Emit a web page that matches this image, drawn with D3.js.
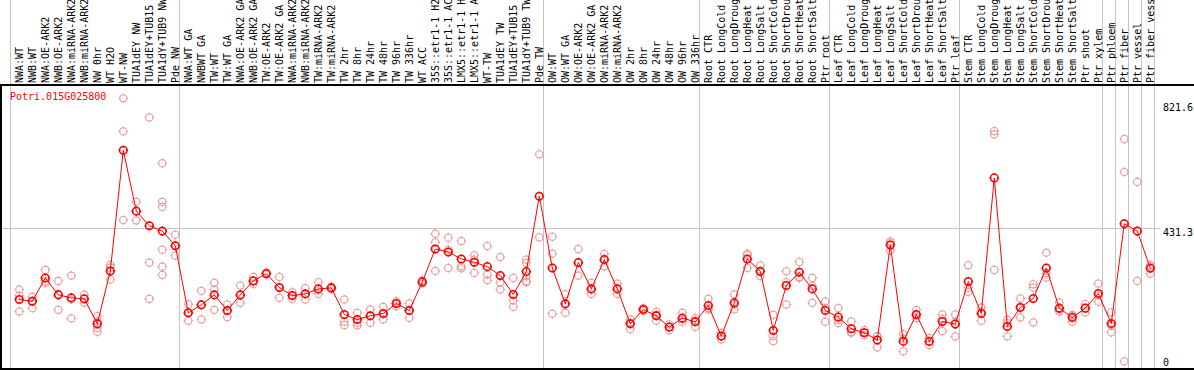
<!DOCTYPE html>
<html>
<head>
<meta charset="utf-8">
<script src="https://cdn.jsdelivr.net/npm/d3@7"></script>
<style>
  html, body { margin: 0; padding: 0; background: #fff; }
  svg { display: block; }
  text { font-family: "DejaVu Sans Mono", monospace; font-size: 10px; }
</style>
</head>
<body>
<svg id="chart" width="1194" height="370"></svg>
<script>
const gene = "Potri.015G025800";

const categories = [
  "NWA:WT", "NWB:WT", "NWA:OE-ARK2", "NWB:OE-ARK2", "NWA:miRNA-ARK2", "NWB:miRNA-ARK2",
  "NW 0hr", "WT H2O", "WT-NW", "TUA1dEY NW", "TUA1dEY+TUB15 NW", "TUA1dY+TUB9 NW", "Pde NW",
  "NWA:WT GA", "NWBWT GA", "TW:WT", "TW:WT GA", "NWA:OE-ARK2 GA", "NWB:OE-ARK2 GA",
  "TW:OE-ARK2", "TW:OE-ARK2 GA", "NWA:miRNA-ARK2 GA", "NWB:miRNA-ARK2 GA", "TW:miRNA-ARK2",
  "TW:miRNA-ARK2 GA", "TW 2hr", "TW 8hr", "TW 24hr", "TW 48hr", "TW 96hr", "TW 336hr", "WT ACC",
  "35S::etr1-1 H2O", "35S::etr1-1 ACC", "LMX5::etr1-1 H2O", "LMX5::etr1-1 ACC", "WT-TW",
  "TUA1dEY TW", "TUA1dEY+TUB15 TW", "TUA1dY+TUB9 TW", "Pde TW",
  "OW:WT", "OW:WT GA", "OW:OE-ARK2", "OW:OE-ARK2 GA", "OW:miRNA-ARK2", "OW:miRNA-ARK2 GA",
  "OW 2hr", "OW 8hr", "OW 24hr", "OW 48hr", "OW 96hr", "OW 336hr",
  "Root CTR", "Root LongCold", "Root LongDrought", "Root LongHeat", "Root LongSalt",
  "Root ShortCold", "Root ShortDrought", "Root ShortHeat", "Root ShortSalt", "Ptr root",
  "Leaf CTR", "Leaf LongCold", "Leaf LongDrought", "Leaf LongHeat", "Leaf LongSalt",
  "Leaf ShortCold", "Leaf ShortDrought", "Leaf ShortHeat", "Leaf ShortSalt", "Ptr leaf",
  "Stem CTR", "Stem LongCold", "Stem LongDrought", "Stem LongHeat", "Stem LongSalt",
  "Stem ShortCold", "Stem ShortDrought", "Stem ShortHeat", "Stem ShortSalt", "Ptr shoot",
  "Ptr xylem", "Ptr phloem", "Ptr fiber", "Ptr vessel", "Ptr fiber vessel"
];

// last column of each group (a grey rule is drawn after it)
const groupEnds = [
  "Pde NW", "Pde TW", "OW 336hr", "Ptr root", "Ptr leaf", "Ptr xylem",
  "Ptr phloem", "Ptr fiber", "Ptr vessel", "Ptr fiber vessel"
];

const means = [
  216, 211, 281, 230, 221, 218, 143, 302, 665, 482, 438, 422, 378,
  176, 200, 230, 183, 230, 272, 294, 252, 228, 233, 248, 251, 171,
  156, 167, 174, 204, 183, 269, 368, 359, 338, 328, 315, 288, 231,
  300, 527,
  311, 203, 327, 248, 336, 248, 143, 186, 167, 133, 160, 149,
  198, 106, 206, 338, 301, 123, 258, 298, 248, 183,
  163, 128, 116, 94, 380, 90, 171, 90, 150, 142,
  270, 174, 582, 135, 192, 219, 311, 190, 162, 190, 234,
  144, 444, 422, 310
];

const replicates = [
  [246, 228, 180], [224, 212, 190], [305, 272, 266], [272, 233, 185], [288, 216, 159],
  [230, 218, 206], [166, 150, 131, 119], [320, 312, 276], [821.6, 722, 455], [510, 482, 454],
  [764, 327, 218], [626, 510, 495, 366, 315, 290], [411, 378, 348],
  [202, 176, 152], [242, 200, 156], [266, 246, 185], [201, 183, 163], [258, 228, 206],
  [284, 272, 263], [297, 294, 291], [284, 252, 221], [238, 228, 218], [250, 233, 216],
  [268, 243, 233], [255, 251, 247], [216, 149, 139], [176, 146, 138], [186, 166, 146],
  [194, 172, 156], [211, 204, 196], [204, 183, 161], [274, 269, 264], [414, 388, 302],
  [402, 366, 311], [392, 316, 310], [349, 336, 296], [377, 291, 274], [344, 268, 246],
  [281, 213, 194], [336, 326, 286, 271, 268], [653, 403],
  [405, 354, 173], [232, 203, 176], [368, 327, 288], [266, 246, 233], [353, 338, 316],
  [264, 248, 233], [156, 146, 127], [190, 186, 182], [179, 170, 152], [141, 133, 124],
  [176, 156, 149], [160, 153, 134],
  [218, 190, 186], [116, 106, 96], [231, 201, 186], [354, 349, 311], [319, 298, 286],
  [170, 106, 91], [301, 268, 201], [329, 284, 281], [281, 257, 206], [210, 190, 149],
  [190, 155, 145], [150, 118, 116], [124, 116, 108], [106, 104, 72], [391, 386, 363],
  [112, 98, 60], [185, 168, 160], [100, 90, 79], [171, 158, 121], [171, 149, 105],
  [319, 252, 239], [192, 179, 152], [723, 713, 305], [155, 145, 105], [219, 194, 162],
  [262, 252, 147], [357, 295, 282], [207, 185, 180], [170, 166, 149], [202, 190, 177],
  [264, 228, 209], [177, 137, 117], [699, 600, 30], [570, 272], [320, 315, 294]
];

const yTicks = [821.6, 431.3, 0];

const W = 1194, H = 370;
const headerBottom = 85;
const plotBottom = 369;

const svg = d3.select("#chart");

const x = d3.scaleBand()
  .domain(categories)
  .range([11, 11 + categories.length * 13]);
const cx = (c) => x(c) + 8.3;

const y = d3.scaleLinear()
  .domain([0, 821.6])
  .range([371.3, 98.3]);

// grid rules
const gGrid = svg.append("g").attr("stroke", "#c4c4c4").attr("stroke-width", 1);

gGrid.selectAll(".vrule")
  .data([null].concat(groupEnds))
  .join("line")
  .attr("class", "vrule")
  .attr("x1", (d) => (d === null ? x(categories[0]) : x(d) + x.step()) - 0.5)
  .attr("x2", (d) => (d === null ? x(categories[0]) : x(d) + x.step()) - 0.5)
  .attr("y1", 0)
  .attr("y2", H);

gGrid.selectAll(".hrule")
  .data(yTicks.filter((t) => t > 0 && t < y.domain()[1]))
  .join("line")
  .attr("class", "hrule")
  .attr("x1", 1)
  .attr("x2", 1160)
  .attr("y1", (d) => Math.round(y(d)) + 0.5)
  .attr("y2", (d) => Math.round(y(d)) + 0.5);

// frame
const gFrame = svg.append("g").attr("stroke", "#000");
gFrame.append("line")
  .attr("x1", 0).attr("x2", W)
  .attr("y1", headerBottom).attr("y2", headerBottom)
  .attr("stroke-width", 2);
gFrame.append("line")
  .attr("x1", 0).attr("x2", W)
  .attr("y1", plotBottom).attr("y2", plotBottom)
  .attr("stroke-width", 2);
gFrame.append("line")
  .attr("x1", 1).attr("x2", 1)
  .attr("y1", headerBottom).attr("y2", H)
  .attr("stroke-width", 2);

// column labels
svg.append("g")
  .selectAll("text")
  .data(categories)
  .join("text")
  .attr("transform", (d) => `translate(${cx(d) + 3.5},83) rotate(-90)`)
  .attr("fill", "#000")
  .text((d) => d);

// y labels on the right
svg.append("g")
  .selectAll("text")
  .data(yTicks)
  .join("text")
  .attr("x", 1163)
  .attr("y", (d) => Math.min(Math.max(y(d) + 8, 111), 366))
  .attr("fill", "#000")
  .text((d) => d);

// gene name
svg.append("text")
  .attr("x", 10)
  .attr("y", 100)
  .attr("fill", "#ff0000")
  .text(gene);

// marker: circle with four small ticks
const marker = (r, t) =>
  `M${-r},0a${r},${r} 0 1,0 ${2 * r},0a${r},${r} 0 1,0 ${-2 * r},0` +
  `M0,${-r - t}V${-r + t}M0,${r - t}V${r + t}` +
  `M${-r - t},0H${-r + t}M${r - t},0H${r + t}`;

const repPoints = categories.flatMap((c, i) =>
  replicates[i].map((v) => ({ c, v }))
);

svg.append("g")
  .attr("fill", "none")
  .attr("stroke", "#e99a9a")
  .attr("stroke-width", 1)
  .selectAll("path")
  .data(repPoints)
  .join("path")
  .attr("transform", (d) => `translate(${cx(d.c)},${y(d.v)})`)
  .attr("d", marker(3.8, 1));

const line = d3.line()
  .x((d, i) => cx(categories[i]))
  .y((d) => y(d));

svg.append("path")
  .datum(means)
  .attr("fill", "none")
  .attr("stroke", "#ff0000")
  .attr("stroke-width", 1)
  .attr("d", line);

svg.append("g")
  .attr("fill", "none")
  .attr("stroke", "#ff0000")
  .attr("stroke-width", 1.5)
  .selectAll("path")
  .data(means)
  .join("path")
  .attr("transform", (d, i) => `translate(${cx(categories[i])},${y(d)})`)
  .attr("d", marker(3.8, 1));
</script>
</body>
</html>
